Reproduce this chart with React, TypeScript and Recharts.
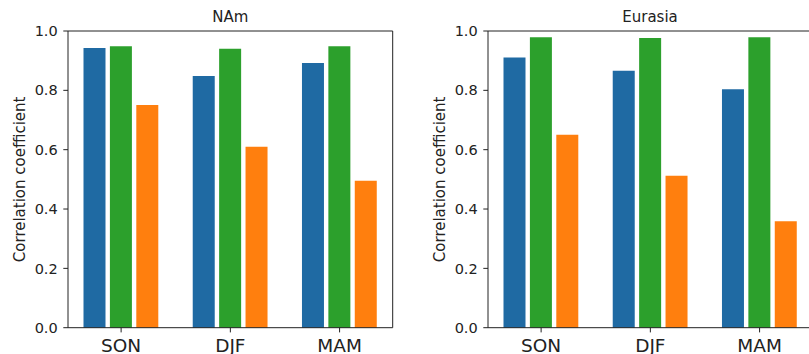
import React from 'react';
import { BarChart, Bar, XAxis, YAxis, CartesianGrid } from 'recharts';

const categories = ['SON', 'DJF', 'MAM'];
const namBlue = [0.943, 0.848, 0.892];
const namGreen = [0.949, 0.94, 0.949];
const namOrange = [0.751, 0.61, 0.495];
const eurBlue = [0.911, 0.866, 0.804];
const eurGreen = [0.979, 0.976, 0.979];
const eurOrange = [0.65, 0.512, 0.359];
const yTicks = [0, 0.2, 0.4, 0.6, 0.8, 1.0];
const panelTitles = ['NAm', 'Eurasia'];
const yLabel = 'Correlation coefficient';

const BLUE = '#1f6aa3';
const GREEN = '#2ca02c';
const ORANGE = '#ff7f0e';
const INK = '#222';
const FONT = 'DejaVu Sans, sans-serif';

const W = 400;
const H = 354;
const TOP = 31;
const LEFT = 68;
const RIGHT = 7.3;
const XAXIS_H = 26.3;

function buildRows(blue: number[], green: number[], orange: number[]) {
  return categories.map((c, i) => ({ cat: c, blue: blue[i], green: green[i], orange: orange[i] }));
}

function Panel({ title, rows, left }: { title: string; rows: any[]; left: number }) {
  const plotW = W - LEFT - RIGHT;
  return (
    <div style={{ position: 'absolute', left, top: 0, width: W, height: H }}>
      <BarChart
        width={W}
        height={H}
        data={rows}
        margin={{ top: TOP, right: RIGHT, left: 0, bottom: 0 }}
        barSize={22}
        barGap={4.4}
      >
        <CartesianGrid
          stroke={INK}
          strokeWidth={1}
          horizontalCoordinatesGenerator={(p: any) => [p.offset.top]}
          verticalCoordinatesGenerator={(p: any) => [p.offset.left + p.offset.width]}
        />
        <XAxis
          dataKey="cat"
          height={XAXIS_H}
          padding={{ left: -1.5, right: -1.5 }}
          axisLine={{ stroke: INK, strokeWidth: 1 }}
          tickLine={{ stroke: INK, strokeWidth: 1 }}
          tickSize={4.7}
          tickMargin={6}
          tick={{ fill: INK, fontSize: 18.5, fontFamily: FONT }}
          interval={0}
        />
        <YAxis
          width={LEFT}
          domain={[0, 1]}
          ticks={yTicks}
          interval={0}
          tickFormatter={(v: number) => v.toFixed(1)}
          axisLine={{ stroke: INK, strokeWidth: 1 }}
          tickLine={{ stroke: INK, strokeWidth: 1 }}
          tickSize={4.7}
          tickMargin={5.6}
          tick={{ fill: INK, fontSize: 14.5, fontFamily: FONT }}
          label={(props: any) => {
            const vb = props.viewBox || {};
            const cy = (vb.y ?? TOP) + (vb.height ?? 296.7) / 2;
            const x = 25;
            return (
              <text
                x={x}
                y={cy}
                transform={`rotate(-90, ${x}, ${cy})`}
                textAnchor="middle"
                fill={INK}
                fontSize={15}
                fontFamily={FONT}
              >
                {yLabel}
              </text>
            );
          }}
        />
        <Bar dataKey="blue" fill={BLUE} isAnimationActive={false} />
        <Bar dataKey="green" fill={GREEN} isAnimationActive={false} />
        <Bar dataKey="orange" fill={ORANGE} isAnimationActive={false} />
      </BarChart>
      <div
        style={{
          position: 'absolute',
          left: LEFT,
          width: plotW,
          top: 7,
          textAlign: 'center',
          fontFamily: FONT,
          fontSize: 15,
          lineHeight: '20px',
          color: INK,
        }}
      >
        {title}
      </div>
    </div>
  );
}

export default function App() {
  return (
    <div
      style={{
        position: 'absolute',
        left: 0,
        top: 0,
        width: 809,
        height: 354,
        overflow: 'hidden',
        background: '#fff',
      }}
    >
      <Panel title={panelTitles[0]} rows={buildRows(namBlue, namGreen, namOrange)} left={0} />
      <Panel title={panelTitles[1]} rows={buildRows(eurBlue, eurGreen, eurOrange)} left={419.7} />
    </div>
  );
}
